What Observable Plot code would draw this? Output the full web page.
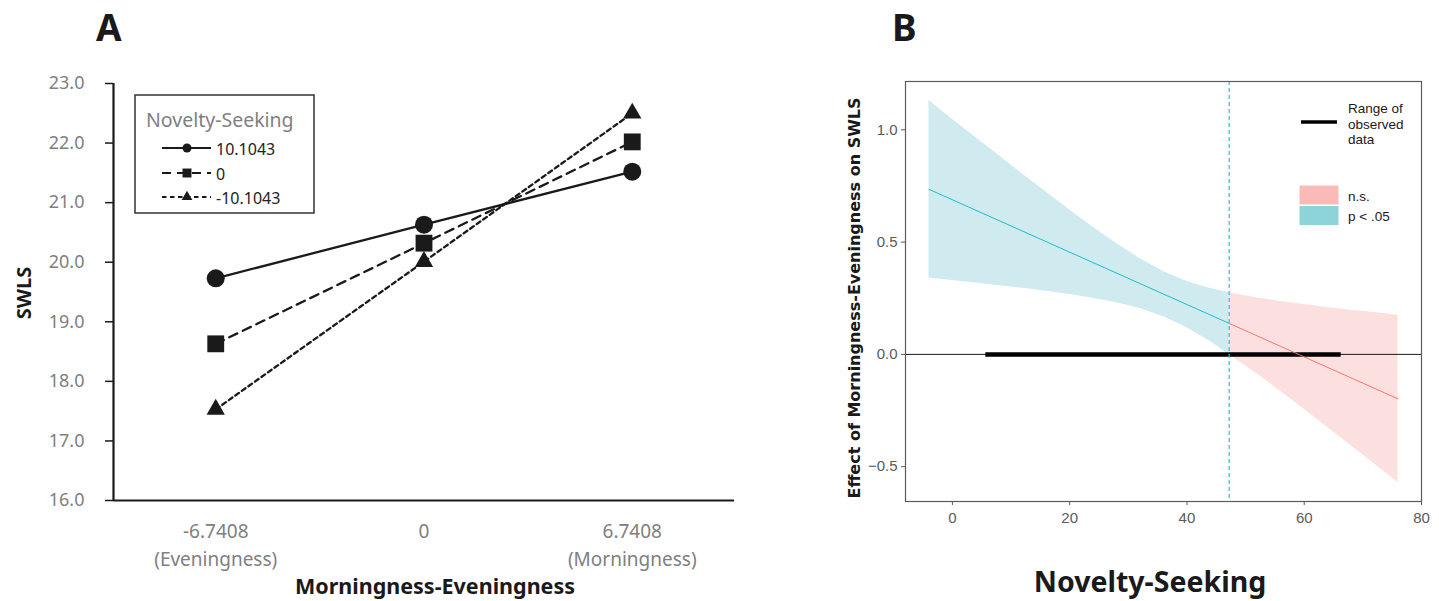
<!DOCTYPE html>
<html>
<head>
<meta charset="utf-8">
<script src="https://cdn.jsdelivr.net/npm/d3@7"></script>
<script src="https://cdn.jsdelivr.net/npm/@observablehq/plot@0.6"></script>
<style>
  html, body { margin: 0; padding: 0; background: #fff; }
  #page { position: relative; width: 1439px; height: 601px; overflow: hidden; background: #fff; }
  #plotA, #plotB { position: absolute; top: 0; }
  #plotA { left: 0; }
  #plotB { left: 830px; }
  #overlay { position: absolute; left: 0; top: 0; pointer-events: none; }
  #plotA [aria-label="y-axis tick label"] { fill: #808080; }
  #plotB [aria-label="y-axis tick label"], #plotB [aria-label="x-axis tick label"] { fill: #5a5a5a; }
</style>
</head>
<body>
<div id="page">
  <div id="plotA"></div>
  <div id="plotB"></div>
  <svg id="overlay" width="1439" height="601"></svg>
</div>
<script>
// ---------------- Panel A data ----------------
const meLevels = [-6.7408, 0, 6.7408];
const meTickTop = ["-6.7408", "0", "6.7408"];
const meTickBottom = ["(Eveningness)", "", "(Morningness)"];
const nsGroups = ["10.1043", "0", "-10.1043"];
const swlsHigh = [19.73, 20.63, 21.52];   // Novelty-Seeking = 10.1043
const swlsMean = [18.63, 20.32, 22.02];   // Novelty-Seeking = 0
const swlsLow  = [17.53, 20.01, 22.50];   // Novelty-Seeking = -10.1043
const swlsTicks = [16, 17, 18, 19, 20, 21, 22, 23];

// ---------------- Panel B data ----------------
const sigX     = [-4, 0, 4, 8, 12, 16, 20, 24, 28, 32, 36, 40, 44, 47.2];
const sigUpper = [1.130, 1.047, 0.966, 0.884, 0.802, 0.723, 0.643, 0.566, 0.494, 0.426, 0.369, 0.325, 0.293, 0.274];
const sigLower = [0.340, 0.329, 0.318, 0.306, 0.294, 0.281, 0.267, 0.250, 0.230, 0.204, 0.168, 0.119, 0.057, 0.000];
const nsX      = [47.2, 52, 56, 60, 64, 68, 72, 76];
const nsUpper  = [0.274, 0.251, 0.235, 0.222, 0.209, 0.197, 0.186, 0.174];
const nsLower  = [0.000, -0.087, -0.165, -0.244, -0.325, -0.407, -0.488, -0.570];
const sigLineX = [-4, 47.2];
const sigLineY = [0.735, 0.138];
const nsLineX  = [47.2, 76];
const nsLineY  = [0.138, -0.198];
const jnPoint = [47.2];
const observedRange = [5.7, 66.3];
const noveltyTicks = [0, 20, 40, 60, 80];
const effectTicks = [-0.5, 0, 0.5, 1.0];

// ---------------- Panel A ----------------
const seriesA = [
  {name: nsGroups[0], values: swlsHigh, symbol: "circle", r: 9, dash: null},
  {name: nsGroups[1], values: swlsMean, symbol: "square", r: 9.5, dash: "9,6"},
  {name: nsGroups[2], values: swlsLow, symbol: "triangle", r: 6.8, dash: "4.5,3.5"}
];
const rowsA = seriesA.flatMap(s => s.values.map((v, i) => ({group: s.name, x: meLevels[i], y: v})));
const ticksA = meLevels.map((x, i) => ({x, top: meTickTop[i], bottom: meTickBottom[i]}));

const fontA = "'Noto Sans', 'Open Sans', sans-serif";
const marksA = [
  Plot.ruleX([-10.05], {stroke: "#1a1a1a", strokeWidth: 2.2}),
  Plot.ruleY([16], {stroke: "#1a1a1a", strokeWidth: 2.2}),
  Plot.axisY({ticks: swlsTicks, tickFormat: d3.format(".1f"), tickSize: 8, tickPadding: 21, fontSize: 18, label: null, stroke: "#1a1a1a", strokeWidth: 1.5}),
  Plot.text(ticksA, {x: "x", text: "top", frameAnchor: "bottom", dy: 37, fontSize: 19, fill: "#808080"}),
  Plot.text(ticksA, {x: "x", text: "bottom", frameAnchor: "bottom", dy: 65, fontSize: 19, fill: "#808080"})
];
for (const s of seriesA) {
  const rows = rowsA.filter(d => d.group === s.name);
  marksA.push(Plot.line(rows, {x: "x", y: "y", stroke: "#1a1a1a", strokeWidth: 2.3, strokeDasharray: s.dash}));
  marksA.push(Plot.dot(rows, {x: "x", y: "y", symbol: () => s.symbol, r: s.r, fill: "#1a1a1a", stroke: "none"}));
}
const plotA = Plot.plot({
  width: 760, height: 601,
  marginLeft: 113, marginRight: 26, marginTop: 83, marginBottom: 101,
  style: {fontFamily: fontA, background: "transparent", overflow: "visible"},
  x: {type: "linear", domain: [-10.05, 10.05], axis: null},
  y: {domain: [16, 23], axis: null},
  symbol: {type: "identity"},
  marks: marksA
});
document.getElementById("plotA").appendChild(plotA);

// ---------------- Panel B ----------------
const sigRibbon = sigX.map((x, i) => ({x, lo: sigLower[i], hi: sigUpper[i]}));
const nsRibbon = nsX.map((x, i) => ({x, lo: nsLower[i], hi: nsUpper[i]}));
const sigLine = sigLineX.map((x, i) => ({x, y: sigLineY[i]}));
const nsLine = nsLineX.map((x, i) => ({x, y: nsLineY[i]}));

const plotB = Plot.plot({
  width: 609, height: 601,
  marginLeft: 75, marginRight: 18, marginTop: 81, marginBottom: 100,
  style: {fontFamily: "'Liberation Sans', Arial, sans-serif", background: "transparent", overflow: "visible"},
  x: {domain: [-8, 80], axis: null},
  y: {domain: [-0.655, 1.215], axis: null},
  marks: [
    Plot.areaY(sigRibbon, {x: "x", y1: "lo", y2: "hi", fill: "#cfebef"}),
    Plot.areaY(nsRibbon, {x: "x", y1: "lo", y2: "hi", fill: "#fce0df"}),
    Plot.ruleY([0], {stroke: "#1a1a1a", strokeWidth: 1}),
    Plot.ruleY([0], {x1: observedRange[0], x2: observedRange[1], stroke: "#000", strokeWidth: 4.5}),
    Plot.line(sigLine, {x: "x", y: "y", stroke: "#1fbec4", strokeWidth: 1}),
    Plot.line(nsLine, {x: "x", y: "y", stroke: "#f8766d", strokeWidth: 1}),
    Plot.ruleX(jnPoint, {stroke: "#22c4cc", strokeWidth: 1.2, strokeDasharray: "4,3"}),
    Plot.frame({stroke: "#5a5a5a", strokeWidth: 1.2}),
    Plot.axisX({ticks: noveltyTicks, tickSize: 4, tickPadding: 7, fontSize: 15, label: null, stroke: "#5a5a5a"}),
    Plot.axisY({ticks: effectTicks, tickFormat: d3.format(".1f"), tickSize: 4, tickPadding: 4, fontSize: 15, label: null, stroke: "#5a5a5a"})
  ]
});
document.getElementById("plotB").appendChild(plotB);

// ---------------- Overlay: panel letters, axis titles, legends ----------------
const ov = d3.select("#overlay");
const bold = "'Noto Sans', 'Open Sans', sans-serif";
ov.append("text").attr("x", 96).attr("y", 41).attr("font-family", bold).attr("font-weight", 700).attr("font-size", 37).attr("fill", "#1a1a1a").text("A");
ov.append("text").attr("x", 892).attr("y", 41).attr("font-family", bold).attr("font-weight", 700).attr("font-size", 37).attr("fill", "#1a1a1a").text("B");
ov.append("text").attr("transform", "translate(31,293) rotate(-90)").attr("text-anchor", "middle")
  .attr("font-family", bold).attr("font-weight", 700).attr("font-size", 20).attr("fill", "#1a1a1a").text("SWLS");
ov.append("text").attr("x", 435).attr("y", 594).attr("text-anchor", "middle")
  .attr("font-family", bold).attr("font-weight", 700).attr("font-size", 21.5).attr("fill", "#1a1a1a").text("Morningness-Eveningness");
ov.append("text").attr("transform", "translate(860,298) rotate(-90)").attr("text-anchor", "middle")
  .attr("font-family", "'DejaVu Sans', Verdana, sans-serif").attr("font-weight", 700).attr("font-size", 16).attr("fill", "#1a1a1a").text("Effect of Morningness-Eveningness on SWLS");
ov.append("text").attr("x", 1150).attr("y", 592).attr("text-anchor", "middle")
  .attr("font-family", bold).attr("font-weight", 700).attr("font-size", 28.5).attr("fill", "#1a1a1a").text("Novelty-Seeking");

// Legend A
const lgA = ov.append("g");
lgA.append("rect").attr("x", 135).attr("y", 95).attr("width", 179).attr("height", 118)
  .attr("fill", "#fff").attr("stroke", "#333").attr("stroke-width", 1.5);
lgA.append("text").attr("x", 146).attr("y", 127).attr("font-family", fontA).attr("font-size", 19.5).attr("fill", "#808080").text("Novelty-Seeking");
const legY = [148, 173, 197];
const legSym = {circle: d3.symbolCircle, square: d3.symbolSquare, triangle: d3.symbolTriangle};
const legSize = {circle: 64, square: 80, triangle: 50};
seriesA.forEach((s, i) => {
  const y = legY[i];
  lgA.append("line").attr("x1", 162).attr("x2", 211).attr("y1", y).attr("y2", y)
    .attr("stroke", "#1a1a1a").attr("stroke-width", 2).attr("stroke-dasharray", s.dash);
  lgA.append("path").attr("d", d3.symbol(legSym[s.symbol], legSize[s.symbol])()).attr("transform", `translate(187,${y})`).attr("fill", "#1a1a1a");
  lgA.append("text").attr("x", 216).attr("y", y + 7).attr("font-family", fontA).attr("font-size", 16).attr("fill", "#222").text(s.name);
});

// Legend B
const lgB = ov.append("g").attr("font-family", "'Liberation Sans', Arial, sans-serif").attr("font-size", 13.5).attr("fill", "#1a1a1a");
lgB.append("line").attr("x1", 1301).attr("x2", 1337).attr("y1", 122).attr("y2", 122).attr("stroke", "#000").attr("stroke-width", 3.5);
["Range of", "observed", "data"].forEach((t, i) => lgB.append("text").attr("x", 1348).attr("y", 113 + i * 15.5).text(t));
lgB.append("rect").attr("x", 1299).attr("y", 185).attr("width", 40).attr("height", 20).attr("fill", "#f9bab8").attr("stroke", "#fff");
lgB.append("rect").attr("x", 1299).attr("y", 205.5).attr("width", 40).attr("height", 20).attr("fill", "#8cd4da").attr("stroke", "#fff");
lgB.append("text").attr("x", 1348).attr("y", 201).text("n.s.");
lgB.append("text").attr("x", 1348).attr("y", 221).text("p < .05");
</script>
</body>
</html>
